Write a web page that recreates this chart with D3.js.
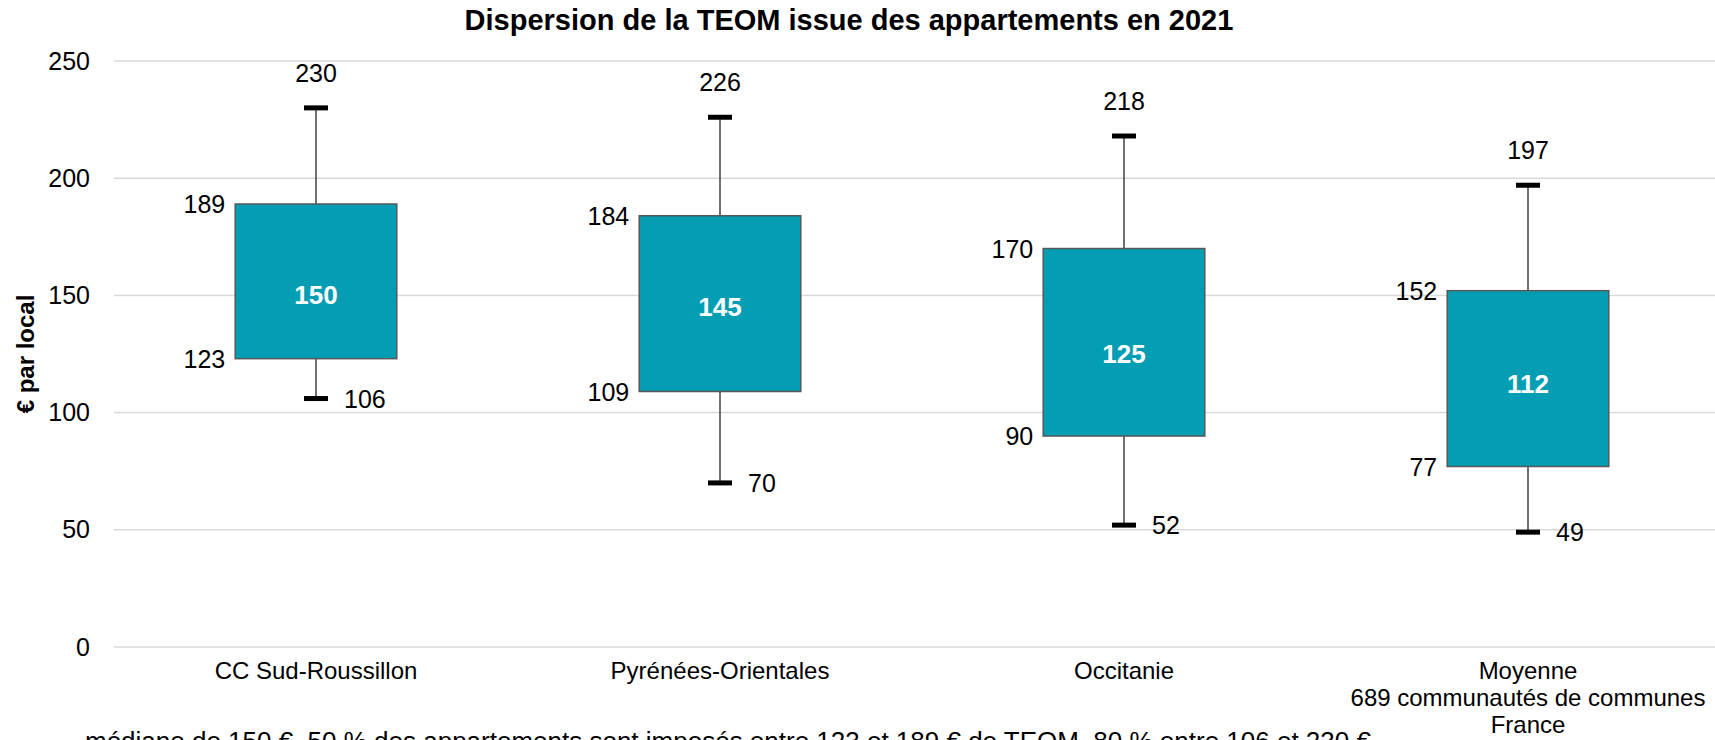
<!DOCTYPE html>
<html>
<head>
<meta charset="utf-8">
<script src="https://cdn.jsdelivr.net/npm/d3@7"></script>
<style>
  html, body { margin: 0; padding: 0; background: #fff; overflow: hidden; }
  svg { display: block; font-family: "Liberation Sans", Arial, sans-serif; }
</style>
</head>
<body>
<div id="chart"></div>
<script>
// valeurs
var categories = ["CC Sud-Roussillon", "Pyrénées-Orientales", "Occitanie", "Moyenne\n689 communautés de communes\nFrance"];
var minVals = [106, 70, 52, 49];
var q1Vals = [123, 109, 90, 77];
var medVals = [150, 145, 125, 112];
var q3Vals = [189, 184, 170, 152];
var maxVals = [230, 226, 218, 197];
var yTicks = [0, 50, 100, 150, 200, 250];

var w = 1715, h = 740;
var svg = d3.select('#chart').append('svg').attr('width', w).attr('height', h);

var x = d3.scaleBand().domain(categories).range([114, 1730]).paddingInner(0).paddingOuter(0);
var y = d3.scaleLinear().domain([0, 250]).range([647, 61]);

var data = categories.map(function (c, i) {
  return {cat: c, min: minVals[i], q1: q1Vals[i], med: medVals[i], q3: q3Vals[i], max: maxVals[i]};
});

// grille
svg.append('g').selectAll('line').data(yTicks).enter().append('line')
  .attr('x1', 114).attr('x2', w)
  .attr('y1', d => y(d)).attr('y2', d => y(d))
  .attr('stroke', '#d9d9d9').attr('stroke-width', 1.5);

var yAxis = svg.append('g').attr('transform', 'translate(114,0)')
  .call(d3.axisLeft(y).tickValues(yTicks).tickSize(0).tickPadding(24));
yAxis.select('.domain').remove();
yAxis.selectAll('text').attr('font-size', 25).attr('fill', '#000')
  .attr('font-family', '"Liberation Sans", Arial, sans-serif');

// titre axe y
svg.append('text')
  .attr('transform', 'translate(25,354) rotate(-90)')
  .attr('text-anchor', 'middle').attr('dominant-baseline', 'central')
  .attr('font-weight', 'bold').attr('font-size', 24)
  .text('€ par local');

// titre
svg.append('text')
  .attr('x', 849).attr('y', 30)
  .attr('text-anchor', 'middle').attr('font-weight', 'bold').attr('font-size', 29)
  .text('Dispersion de la TEOM issue des appartements en 2021');

// étiquettes des catégories
var catLabels = svg.append('g').selectAll('text').data(categories).enter().append('text')
  .attr('text-anchor', 'middle').attr('font-size', 24)
  .attr('x', d => x(d) + x.bandwidth() / 2);
catLabels.selectAll('tspan').data(d => d.split('\n').map(s => ({s: s, c: d}))).enter().append('tspan')
  .attr('x', d => x(d.c) + x.bandwidth() / 2)
  .attr('y', (d, i) => 679 + i * 27)
  .text(d => d.s);

var bw = x.bandwidth() * 0.4;
var capW = 24;
var g = svg.selectAll('.box').data(data).enter().append('g').attr('class', 'box')
  .attr('transform', d => 'translate(' + (x(d.cat) + x.bandwidth() / 2) + ',0)');

// moustaches
g.append('line').attr('x1', 0).attr('x2', 0)
  .attr('y1', d => y(d.max)).attr('y2', d => y(d.q3))
  .attr('stroke', '#404040').attr('stroke-width', 1.5);
g.append('line').attr('x1', 0).attr('x2', 0)
  .attr('y1', d => y(d.q1)).attr('y2', d => y(d.min))
  .attr('stroke', '#404040').attr('stroke-width', 1.5);
g.append('line').attr('x1', -capW / 2).attr('x2', capW / 2)
  .attr('y1', d => y(d.max)).attr('y2', d => y(d.max))
  .attr('stroke', '#000').attr('stroke-width', 5);
g.append('line').attr('x1', -capW / 2).attr('x2', capW / 2)
  .attr('y1', d => y(d.min)).attr('y2', d => y(d.min))
  .attr('stroke', '#000').attr('stroke-width', 5);

// boîtes
g.append('rect')
  .attr('x', -bw / 2).attr('width', bw)
  .attr('y', d => y(d.q3)).attr('height', d => y(d.q1) - y(d.q3))
  .attr('fill', '#039db4').attr('stroke', '#595959').attr('stroke-width', 1.5);

// étiquettes
g.append('text').attr('text-anchor', 'middle').attr('dominant-baseline', 'central')
  .attr('fill', '#fff').attr('font-weight', 'bold').attr('font-size', 26)
  .attr('y', d => y(d.med)).text(d => d.med);
g.append('text').attr('text-anchor', 'middle').attr('dominant-baseline', 'central')
  .attr('font-size', 25).attr('y', d => y(d.max) - 35).text(d => d.max);
g.append('text').attr('text-anchor', 'end').attr('dominant-baseline', 'central')
  .attr('font-size', 25).attr('x', -bw / 2 - 10).attr('y', d => y(d.q3)).text(d => d.q3);
g.append('text').attr('text-anchor', 'end').attr('dominant-baseline', 'central')
  .attr('font-size', 25).attr('x', -bw / 2 - 10).attr('y', d => y(d.q1)).text(d => d.q1);
g.append('text').attr('text-anchor', 'start').attr('dominant-baseline', 'central')
  .attr('font-size', 25).attr('x', capW / 2 + 16).attr('y', d => y(d.min)).text(d => d.min);

// note de lecture (coupée en bas)
svg.append('text').attr('x', 85).attr('y', 750).attr('font-size', 26)
  .text('médiane de 150 €, 50 % des appartements sont imposés entre 123 et 189 € de TEOM, 80 % entre 106 et 230 €');
</script>
</body>
</html>
